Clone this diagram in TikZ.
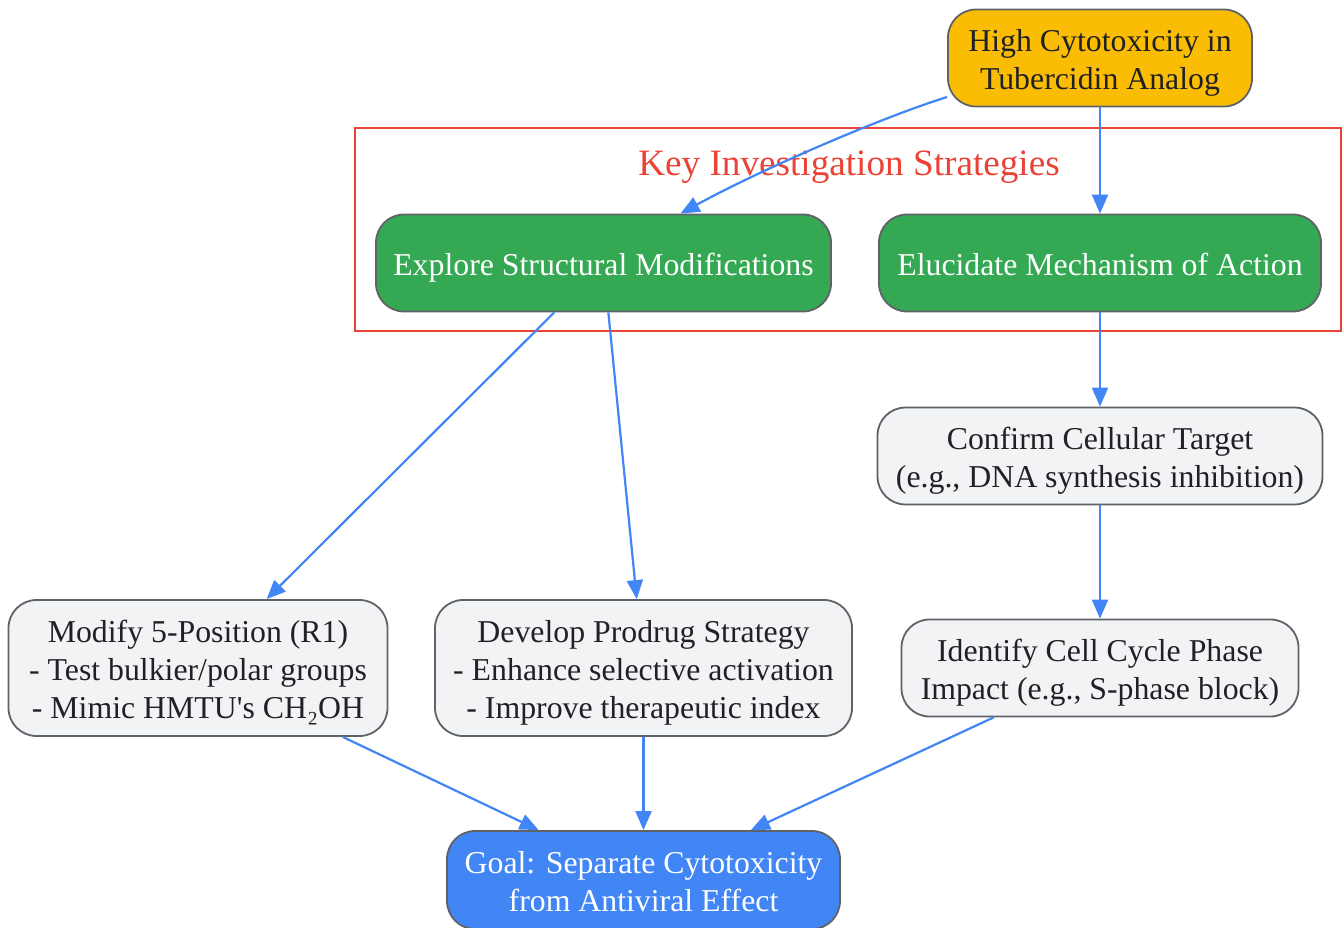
\documentclass[tikz,border=0pt]{standalone}
\usepackage{fontspec}
\setmainfont{Liberation Serif}[Ligatures=TeXOff]
\usetikzlibrary{arrows.meta}
\definecolor{txt}{HTML}{202124}
\definecolor{bord}{HTML}{5F6368}
\definecolor{orng}{HTML}{FBBC04}
\definecolor{grn}{HTML}{34A853}
\definecolor{blu}{HTML}{4285F4}
\definecolor{gry}{HTML}{F1F3F4}
\definecolor{rd}{HTML}{EA4335}
\newcommand\hs{\rule{0pt}{31pt}}
\newcommand\ds{\rule[-6pt]{0pt}{6pt}}
\begin{document}
\begin{tikzpicture}[x=1pt,y=1pt,
  box/.style={draw=bord, line width=1.8pt, rounded corners=28pt, align=center, inner sep=0pt,
    font=\fontsize{31.8}{38}\selectfont, text=txt},
  arr/.style={draw=blu, line width=2.2pt, -{Triangle[length=19pt,width=16pt]}}]
\useasboundingbox (0,0) rectangle (1342,-928);
% subgraph
\draw[rd, line width=2pt] (355,-128) rectangle (1341,-331);
\node[text=rd, font=\fontsize{37.2}{44}\selectfont, inner sep=0pt] (title) at (849,-168) {\rule[-9pt]{0pt}{34pt}Key Investigation Strategies};
% nodes
\node[box, fill=orng, minimum width=304pt, minimum height=97pt] (top) at (1100,-58) {\hs High Cytotoxicity in\\Tubercidin Analog\ds};
\node[box, fill=grn, text=white, minimum width=455pt, minimum height=97pt] (explore) at (603.5,-263) {\hs Explore Structural Modifications\ds};
\node[box, fill=grn, text=white, minimum width=442pt, minimum height=97pt] (elucidate) at (1100,-263) {\hs Elucidate Mechanism of Action\ds};
\node[box, fill=gry, minimum width=445pt, minimum height=97pt] (confirm) at (1100,-456) {\hs Confirm Cellular Target\\(e.g., DNA synthesis inhibition)\ds};
\node[box, fill=gry, minimum width=397pt, minimum height=97pt] (identify) at (1100,-668) {\hs Identify Cell Cycle Phase\\Impact (e.g., S-phase block)\ds};
\node[box, fill=gry, minimum width=379pt, minimum height=136pt] (modify) at (198,-668) {\hs Modify 5-Position (R1)\\- Test bulkier/polar groups\\- Mimic HMTU's CH₂OH\ds};
\node[box, fill=gry, minimum width=417pt, minimum height=136pt] (prodrug) at (643.5,-668) {\hs Develop Prodrug Strategy\\- Enhance selective activation\\- Improve therapeutic index\ds};
\node[box, fill=blu, text=white, minimum width=393pt, minimum height=98pt] (goal) at (643.5,-880) {\hs Goal: Separate Cytotoxicity\\from Antiviral Effect\ds};
% edges
\draw[arr] ([yshift=-39pt]top.west) .. controls (880,-118) and (760,-170) .. ([xshift=77pt]explore.north);
\draw[arr] (top) -- (elucidate);
\draw[arr] (explore) -- (modify);
\draw[arr] (explore) -- (prodrug);
\draw[arr] (elucidate) -- (confirm);
\draw[arr] (confirm) -- (identify);
\draw[arr] (modify) -- (goal);
\draw[arr] (prodrug) -- (goal);
\draw[arr] (identify) -- (goal);
\end{tikzpicture}
\end{document}
